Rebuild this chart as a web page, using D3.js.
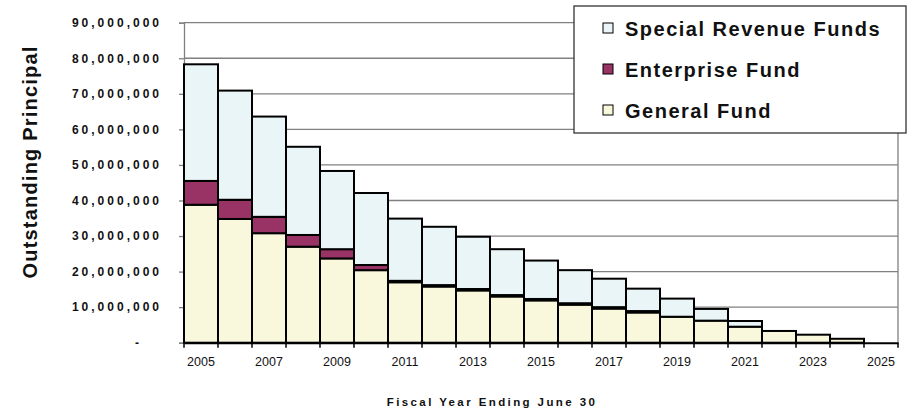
<!DOCTYPE html>
<html lang="en">
<head>
<meta charset="utf-8">
<title>Outstanding Principal by Fund</title>
<script src="https://cdn.jsdelivr.net/npm/d3@7"></script>
<style>
  body { margin: 0; background: #fff; }
  text { font-family: "Liberation Sans", Arial, sans-serif; }
</style>
</head>
<body>
<script>
// fiscal years (2025 has nothing left)
var years = [2005, 2006, 2007, 2008, 2009, 2010, 2011, 2012, 2013, 2014, 2015,
             2016, 2017, 2018, 2019, 2020, 2021, 2022, 2023, 2024, 2025];
var generalFund = [38.8, 34.8, 30.8, 27.0, 23.7, 20.4, 17.0, 15.8, 14.7, 13.0, 11.9,
                   10.7, 9.6, 8.5, 7.3, 6.2, 4.5, 3.3, 2.25, 1.1, 0];
var enterpriseFund = [6.7, 5.4, 4.6, 3.3, 2.6, 1.45, 0.4, 0.4, 0.4, 0.4, 0.4,
                      0.4, 0.4, 0.4, 0, 0, 0, 0, 0, 0, 0];
var specialRevenue = [32.8, 30.7, 28.2, 24.8, 22.0, 20.25, 17.5, 16.4, 14.7, 12.9, 10.8,
                      9.3, 8.0, 6.3, 5.1, 3.3, 1.6, 0, 0, 0, 0];
var yTicks = [0, 10e6, 20e6, 30e6, 40e6, 50e6, 60e6, 70e6, 80e6, 90e6];
var xLabels = [2005, 2007, 2009, 2011, 2013, 2015, 2017, 2019, 2021, 2023, 2025];

var seriesNames = ["General Fund", "Enterprise Fund", "Special Revenue Funds"];
var colors = {"General Fund": "#f9f8dc", "Enterprise Fund": "#993366", "Special Revenue Funds": "#eaf5f7"};

var w = 913, h = 411;
var margin = {top: 22.7, right: 15, bottom: 68.3, left: 184};

var rows = years.map(function(y, i) {
  return {
    year: y,
    "General Fund": generalFund[i] * 1e6,
    "Enterprise Fund": enterpriseFund[i] * 1e6,
    "Special Revenue Funds": specialRevenue[i] * 1e6
  };
});

var svg = d3.select("body").append("svg")
  .attr("width", w)
  .attr("height", h);

var x = d3.scaleBand()
  .domain(years)
  .range([margin.left, w - margin.right])
  .padding(0);

var y = d3.scaleLinear()
  .domain([0, 90e6])
  .range([h - margin.bottom, margin.top]);

// gridlines
svg.append("g")
  .selectAll("line")
  .data(yTicks.filter(function(d) { return d > 0; }))
  .enter().append("line")
  .attr("x1", margin.left).attr("x2", w - margin.right)
  .attr("y1", function(d) { return y(d); })
  .attr("y2", function(d) { return y(d); })
  .attr("stroke", "#808080")
  .attr("stroke-width", 1.3);

// right border of plot area
svg.append("line")
  .attr("x1", w - margin.right).attr("x2", w - margin.right)
  .attr("y1", margin.top).attr("y2", h - margin.bottom)
  .attr("stroke", "#808080").attr("stroke-width", 1.3);

// y axis
var yAxis = svg.append("g")
  .attr("transform", "translate(" + margin.left + ",0)")
  .call(d3.axisLeft(y)
    .tickValues(yTicks)
    .tickSize(5)
    .tickPadding(17)
    .tickFormat(function(d) { return d === 0 ? "-" : d3.format(",")(d); }));
yAxis.select(".domain").attr("stroke", "#808080").attr("stroke-width", 1.3);
yAxis.selectAll(".tick line").attr("stroke", "#808080").attr("stroke-width", 1.3);
yAxis.selectAll(".tick text")
  .attr("fill", "#111")
  .style("font-size", "12px")
  .style("font-weight", "bold")
  .style("letter-spacing", "3px")
  .attr("dx", function(d) { return d === 0 ? -20 : 0; });

// stacked bars
var stack = d3.stack().keys(seriesNames);
var layers = stack(rows);

svg.append("g")
  .selectAll("g")
  .data(layers)
  .enter().append("g")
  .attr("fill", function(d) { return colors[d.key]; })
  .selectAll("rect")
  .data(function(d) { return d.filter(function(p) { return p[1] - p[0] > 0; }); })
  .enter().append("rect")
  .attr("x", function(d) { return x(d.data.year); })
  .attr("width", x.bandwidth())
  .attr("y", function(d) { return y(d[1]); })
  .attr("height", function(d) { return y(d[0]) - y(d[1]); })
  .attr("stroke", "#000")
  .attr("stroke-width", 2);

// x axis
var xAxis = svg.append("g")
  .attr("transform", "translate(0," + (h - margin.bottom) + ")")
  .call(d3.axisBottom(x).tickValues(xLabels).tickSize(0).tickPadding(14));
xAxis.select(".domain").attr("stroke", "#000").attr("stroke-width", 2);
xAxis.selectAll(".tick text")
  .attr("fill", "#111")
  .style("font-size", "12.5px");

// tick marks on category boundaries
var bounds = years.map(function(d) { return x(d); }).concat([x(years[years.length - 1]) + x.bandwidth()]);
svg.append("g")
  .selectAll("line")
  .data(bounds)
  .enter().append("line")
  .attr("x1", function(d) { return d; }).attr("x2", function(d) { return d; })
  .attr("y1", h - margin.bottom).attr("y2", h - margin.bottom + 5)
  .attr("stroke", "#000").attr("stroke-width", 1.5);

// axis titles
svg.append("text")
  .attr("transform", "translate(37,162) rotate(-90)")
  .attr("text-anchor", "middle")
  .style("font-size", "20px")
  .style("font-weight", "bold")
  .style("letter-spacing", "1.2px")
  .attr("fill", "#111")
  .text("Outstanding Principal");

svg.append("text")
  .attr("x", 492)
  .attr("y", 406)
  .attr("text-anchor", "middle")
  .style("font-size", "11.5px")
  .style("font-weight", "bold")
  .style("letter-spacing", "2.4px")
  .attr("fill", "#111")
  .text("Fiscal Year Ending June 30");

// legend
var legend = svg.append("g");
legend.append("rect")
  .attr("x", 574).attr("y", 6)
  .attr("width", 332).attr("height", 127)
  .attr("fill", "#fff")
  .attr("stroke", "#333")
  .attr("stroke-width", 1.3);

var legendItems = seriesNames.slice().reverse();
var li = legend.selectAll(".item")
  .data(legendItems)
  .enter().append("g")
  .attr("class", "item")
  .attr("transform", function(d, i) { return "translate(603," + (36 + i * 41) + ")"; });
li.append("rect")
  .attr("x", 0).attr("y", -13)
  .attr("width", 10).attr("height", 10)
  .attr("fill", function(d) { return colors[d]; })
  .attr("stroke", "#000")
  .attr("stroke-width", 1);
li.append("text")
  .attr("x", 22)
  .attr("y", 0)
  .style("font-size", "20px")
  .style("font-weight", "bold")
  .style("letter-spacing", "1.5px")
  .attr("fill", "#111")
  .text(function(d) { return d; });
</script>
</body>
</html>
